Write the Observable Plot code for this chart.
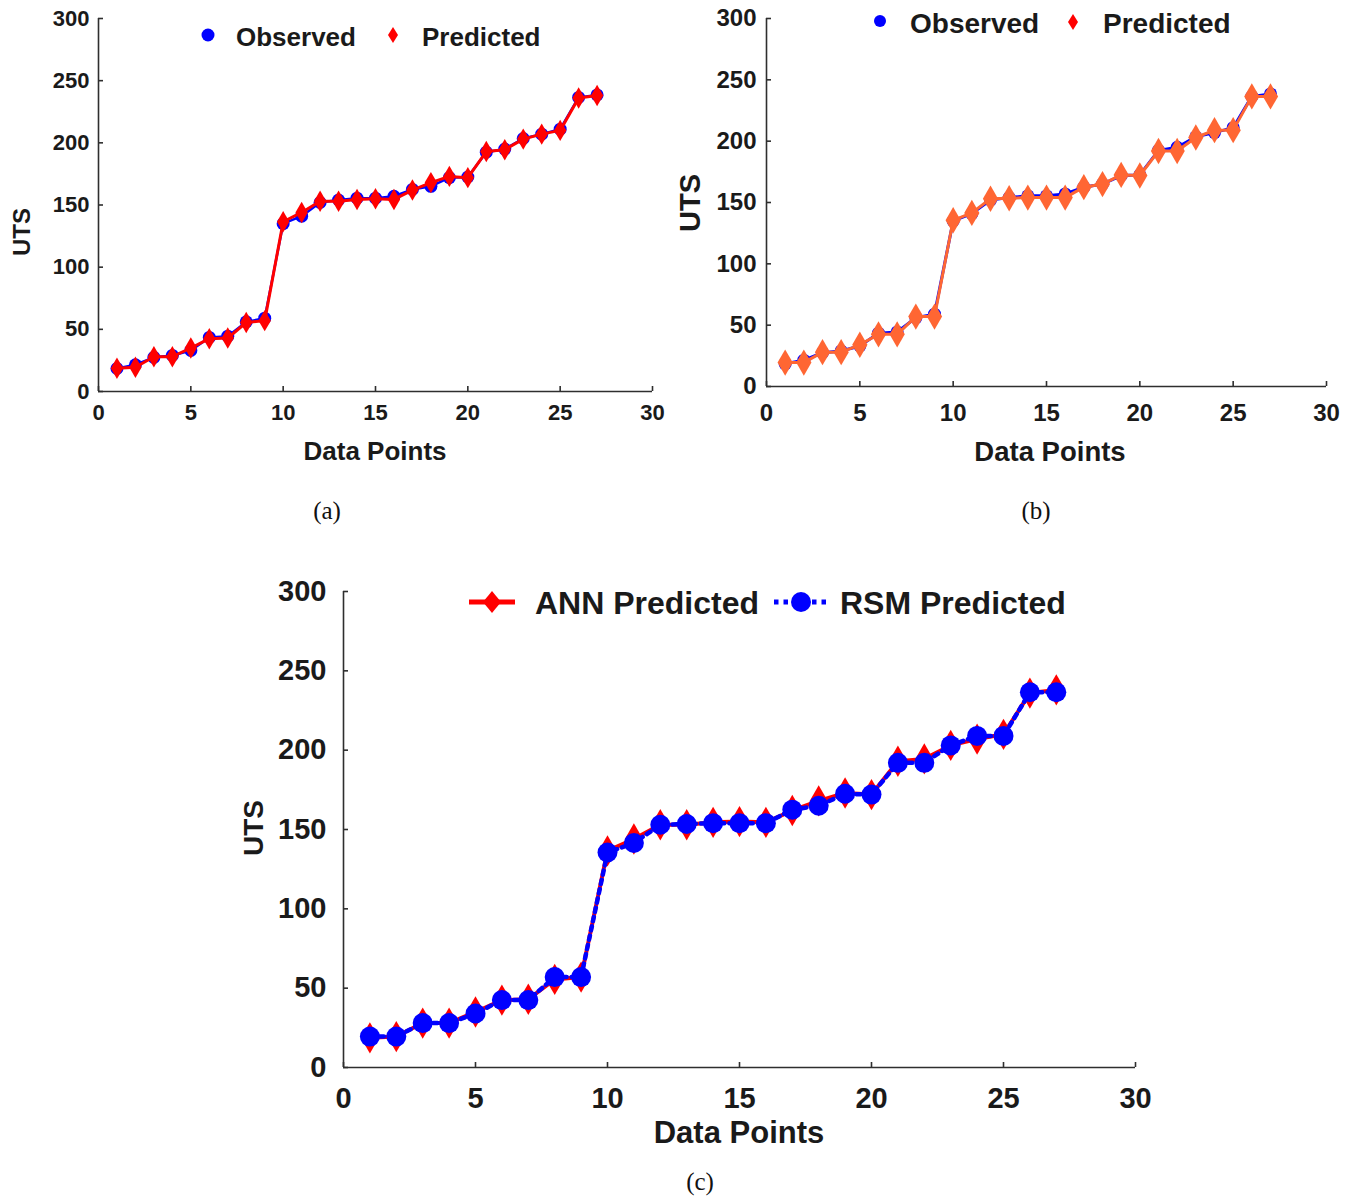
<!DOCTYPE html>
<html>
<head>
<meta charset="utf-8">
<script src="https://cdn.jsdelivr.net/npm/d3@7"></script>
<script src="https://cdn.jsdelivr.net/npm/@observablehq/plot@0.6"></script>
<style>
  html, body { margin: 0; padding: 0; background: #fff; }
  #root { position: relative; width: 1357px; height: 1198px; overflow: hidden; background: #fff; font-family: "Liberation Sans", Arial, sans-serif; }
  .abs { position: absolute; }
  .txt { position: absolute; font-weight: bold; color: #1a1a1a; white-space: nowrap; line-height: 1; transform: translateY(-50%); }
  .ctr { position: absolute; font-weight: bold; color: #1a1a1a; white-space: nowrap; line-height: 1; transform: translate(-50%, -50%); }
  .rot { position: absolute; font-weight: bold; color: #1a1a1a; white-space: nowrap; line-height: 1; transform: translate(-50%, -50%) rotate(-90deg); }
  .cap { position: absolute; font-family: "Liberation Serif", "Times New Roman", serif; color: #111; white-space: nowrap; line-height: 1; transform: translate(-50%, -50%); }
</style>
</head>
<body>
<div id="root"></div>
<script>
// ---------------- data ----------------
const dataPoints = [1, 2, 3, 4, 5, 6, 7, 8, 9, 10, 11, 12, 13, 14, 15, 16, 17, 18, 19, 20, 21, 22, 23, 24, 25, 26, 27];
const observed = [18.5, 21.5, 27.5, 29, 33, 43.5, 44.5, 56, 59, 135, 141, 152, 154, 155.5, 155.5, 157, 162.5, 165, 172, 172.5, 192.5, 195, 203.5, 207, 211, 236.5, 238.5];
const annPredicted = [18.7, 19.5, 28, 28, 35, 42.5, 43, 55.5, 57, 136.5, 144, 153, 153, 154.5, 155, 154.5, 162, 168, 173, 172, 193, 194.5, 203, 207, 210, 236, 238];
const rsmPredicted = [19.5, 19.5, 28, 28, 34, 42.5, 42.5, 57, 57, 135.5, 141.5, 153, 153.5, 154, 154, 154, 162.5, 165, 172.5, 172, 192, 192, 203, 209, 209, 236.5, 236.5];
const xTicks = [0, 5, 10, 15, 20, 25, 30];
const yTicks = [0, 50, 100, 150, 200, 250, 300];
const xLabel = "Data Points";
const yLabel = "UTS";

const BLUE = "#0000ff", RED = "#ff0000", ORANGE = "#ff6633", AXIS = "#2e2e2e";

const rows = (ys) => dataPoints.map((x, i) => ({x, y: ys[i]}));
const obsRows = rows(observed), annRows = rows(annPredicted), rsmRows = rows(rsmPredicted);

const root = document.getElementById("root");

function frameMarks(cfg) {
  const pw = cfg.width - cfg.marginLeft - cfg.marginRight;
  const ph = cfg.height - cfg.marginTop - cfg.marginBottom;
  return [
    Plot.ruleX([0], {stroke: AXIS, strokeWidth: 1.6}),
    Plot.ruleY([0], {stroke: AXIS, strokeWidth: 1.6}),
    Plot.tickY(yTicks, {y: d => d, stroke: AXIS, strokeWidth: 1.6, insetRight: pw - 5}),
    Plot.tickX(xTicks, {x: d => d, stroke: AXIS, strokeWidth: 1.6, insetTop: ph - 5}),
    Plot.axisX({ticks: xTicks, tickSize: 0, tickPadding: cfg.xPad, label: null, fontSize: cfg.tickFont, fontWeight: "bold", fill: "#1a1a1a"}),
    Plot.axisY({ticks: yTicks, tickSize: 0, tickPadding: cfg.yPad, label: null, fontSize: cfg.tickFont, fontWeight: "bold", fill: "#1a1a1a"})
  ];
}

function makeChart(cfg, marks) {
  const chart = Plot.plot({
    width: cfg.width, height: cfg.height,
    marginLeft: cfg.marginLeft, marginRight: cfg.marginRight,
    marginTop: cfg.marginTop, marginBottom: cfg.marginBottom,
    x: {domain: [0, 30]},
    y: {domain: [0, 300]},
    style: {fontFamily: "'Liberation Sans', Arial, sans-serif", fontSize: cfg.tickFont + "px", fontWeight: "bold", background: "transparent", overflow: "visible"},
    marks: [...frameMarks(cfg), ...marks]
  });
  chart.classList.add("abs");
  chart.style.left = cfg.left + "px";
  chart.style.top = cfg.top + "px";
  root.appendChild(chart);
}

function addText(cls, text, x, y, size, extra) {
  const d = document.createElement("div");
  d.className = cls;
  d.textContent = text;
  d.style.left = x + "px";
  d.style.top = y + "px";
  d.style.fontSize = size + "px";
  if (extra) Object.assign(d.style, extra);
  root.appendChild(d);
}

function addSvg(html, x, y, w, h) {
  const d = document.createElement("div");
  d.className = "abs";
  d.style.left = x + "px"; d.style.top = y + "px";
  d.innerHTML = `<svg width="${w}" height="${h}" viewBox="0 0 ${w} ${h}">${html}</svg>`;
  root.appendChild(d);
}

// ---------------- panel (a) ----------------
const cfgA = {left: 0, top: 0, width: 670, height: 470, marginLeft: 98, marginRight: 18, marginTop: 18, marginBottom: 79, tickFont: 22, xPad: 13, yPad: 9};
makeChart(cfgA, [
  Plot.line(obsRows, {x: "x", y: "y", stroke: BLUE, strokeWidth: 2.5}),
  Plot.dot(obsRows, {x: "x", y: "y", r: 6.5, fill: BLUE, stroke: "none"}),
  Plot.line(annRows, {x: "x", y: "y", stroke: RED, strokeWidth: 3}),
  Plot.dot(annRows, {x: "x", y: "y", symbol: "diamond", r: 6.5, fill: RED, stroke: "none"})
]);
addText("rot", yLabel, 22, 232, 24);
addText("ctr", xLabel, 375, 451, 26);
addSvg(`<circle cx="8" cy="8" r="6.5" fill="${BLUE}"/>`, 200, 27, 16, 16);
addText("txt", "Observed", 236, 37, 26);
addSvg(`<path d="M6,0 L11,8 L6,16 L1,8 Z" fill="${RED}"/>`, 387, 27, 12, 16);
addText("txt", "Predicted", 422, 37, 26);
addText("cap", "(a)", 327, 510, 25);

// ---------------- panel (b) ----------------
const cfgB = {left: 680, top: 0, width: 677, height: 470, marginLeft: 86, marginRight: 31, marginTop: 18, marginBottom: 84, tickFont: 24, xPad: 17, yPad: 10};
makeChart(cfgB, [
  Plot.line(obsRows, {x: "x", y: "y", stroke: BLUE, strokeWidth: 3}),
  Plot.dot(obsRows, {x: "x", y: "y", r: 6.5, fill: BLUE, stroke: "none"}),
  Plot.line(rsmRows, {x: "x", y: "y", stroke: ORANGE, strokeWidth: 3}),
  Plot.dot(rsmRows, {x: "x", y: "y", symbol: "diamond", r: 8, fill: ORANGE, stroke: "none"})
]);
addText("rot", yLabel, 690, 203, 29);
addText("ctr", xLabel, 1050, 452, 27.5);
addSvg(`<circle cx="7" cy="7" r="6" fill="${BLUE}"/>`, 873, 14, 14, 14);
addText("txt", "Observed", 910, 24, 28);
addSvg(`<path d="M6,0 L11,8 L6,16 L1,8 Z" fill="${RED}"/>`, 1067, 14, 12, 16);
addText("txt", "Predicted", 1103, 24, 28);
addText("cap", "(b)", 1036, 510, 25);

// ---------------- panel (c) ----------------
const cfgC = {left: 230, top: 560, width: 930, height: 600, marginLeft: 113, marginRight: 25, marginTop: 31, marginBottom: 93, tickFont: 29, xPad: 20, yPad: 17};
makeChart(cfgC, [
  Plot.line(annRows, {x: "x", y: "y", stroke: RED, strokeWidth: 4}),
  Plot.dot(annRows, {x: "x", y: "y", symbol: "diamond", r: 9.5, fill: RED, stroke: "none"}),
  Plot.line(rsmRows, {x: "x", y: "y", stroke: BLUE, strokeWidth: 4.5, strokeDasharray: "4.5 5"}),
  Plot.dot(rsmRows, {x: "x", y: "y", r: 10, fill: BLUE, stroke: "none"})
]);
addText("rot", yLabel, 254, 828, 28);
addText("ctr", xLabel, 739, 1132, 31);
addSvg(`<line x1="0" y1="12" x2="46" y2="12" stroke="${RED}" stroke-width="5"/><path d="M23,1 L32,12 L23,23 L14,12 Z" fill="${RED}"/>`, 469, 590, 46, 24);
addText("txt", "ANN Predicted", 535, 603, 32);
addSvg(`<line x1="0" y1="12" x2="54" y2="12" stroke="${BLUE}" stroke-width="5" stroke-dasharray="4.5 5"/><circle cx="27" cy="12" r="10" fill="${BLUE}"/>`, 774, 590, 54, 24);
addText("txt", "RSM Predicted", 840, 603, 32);
addText("cap", "(c)", 700, 1181, 25);
</script>
</body>
</html>
